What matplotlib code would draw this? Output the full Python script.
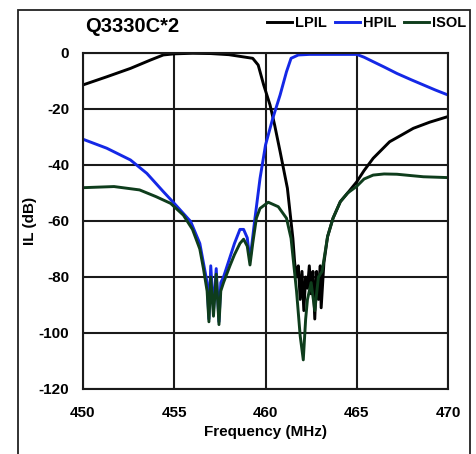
import matplotlib.pyplot as plt
from matplotlib.patches import Rectangle

# ------- data -------
lpil_f = [450, 451.3, 452.6, 453.7, 454.4, 455, 456, 457, 458, 458.6, 459.3, 459.6,
          459.9, 460.25, 460.5, 460.8, 461.2, 461.5, 461.6, 461.7, 461.8, 461.9,
          462.0, 462.1, 462.2, 462.3, 462.4, 462.5, 462.6, 462.7, 462.8, 462.9,
          463.0, 463.05, 463.2, 463.4, 463.7, 464.1, 464.5, 465, 465.4, 465.9,
          466.8, 467.4, 468.1, 469, 470]
lpil_db = [-11.4, -8.5, -5.5, -2.5, -0.7, -0.3, -0.1, -0.2, -0.6, -1.2, -1.9, -4.3,
           -11.4, -18.6, -25.7, -35.2, -48.3, -66.2, -75, -80, -76, -88,
           -78, -92, -80, -84, -76, -86, -78, -95, -78, -88,
           -76, -91, -75, -65.6, -59, -53.1, -50, -46, -42, -37.6,
           -31.7, -29.5, -26.9, -24.7, -22.7]

hpil_f = [450, 451.3, 452.6, 453.5, 454.4, 455, 455.9, 456.4, 456.6, 456.8, 456.9,
          457.0, 457.15, 457.3, 457.45, 457.55, 457.7, 458.05, 458.3, 458.6, 458.8,
          459.0, 459.15, 459.4, 459.7, 460.0, 460.4, 460.8, 461.15, 461.4, 461.8,
          462.4, 463.5, 465.0, 465.4, 465.9, 466.5, 467.2, 468.0, 468.65, 469.3, 470]
hpil_db = [-30.8, -34, -38.2, -43, -49.5, -53.7, -60.2, -68, -75, -82, -95,
           -76, -92, -77, -96, -82, -80, -73, -68, -63, -63,
           -66, -74, -60.2, -44.8, -32.9, -23.3, -15, -6.7, -1.9, -0.7,
           -0.5, -0.5, -0.5, -1.5, -3.1, -5.0, -7.3, -9.6, -11.4, -13.2, -15]

isol_f = [450, 451.7, 453.1, 454.0, 454.8, 455.5, 456, 456.4, 456.6, 456.8, 456.9,
          457.0, 457.15, 457.3, 457.45, 457.55, 457.7, 458.05, 458.3, 458.6, 458.8,
          459.0, 459.15, 459.3, 459.5, 459.7, 460.15, 460.7, 461.15, 461.4, 461.7,
          461.9, 462.07, 462.2, 462.3, 462.5, 462.7, 462.9, 463.1, 463.4, 463.7,
          464.1, 464.5, 465, 465.4, 465.9, 466.5, 467.2, 468.0, 468.65, 470]
isol_db = [-48.1, -47.7, -48.9, -51.3, -53.7, -57.9, -63, -70, -77, -85, -96,
           -80, -94, -79, -97, -85, -82, -76, -72, -68, -66.5,
           -69, -75.7, -68, -59, -55.5, -53.3, -54.9, -59, -66.2, -85,
           -101, -109.6, -95, -88, -82, -92, -80, -78, -65.6, -59,
           -53.1, -50, -47.6, -45, -43.6, -43.2, -43.3, -43.8, -44.2, -44.5]

x_ticks = [450, 455, 460, 465, 470]
y_ticks = [0, -20, -40, -60, -80, -100, -120]

plt.rcParams['font.family'] = ['Liberation Sans', 'DejaVu Sans']
plt.rcParams['font.weight'] = 'bold'
plt.rcParams['axes.unicode_minus'] = False

fig = plt.figure(figsize=(4.76, 4.54), dpi=100)
ax = fig.add_axes([83/476, 1-389/454, 365/476, 336/454])

# outer frame round the whole chart
fig.patches.append(Rectangle((18/476, -0.05), 452/476, 1.04 - 5/454,
                             transform=fig.transFigure, fill=False,
                             edgecolor='#222222', linewidth=1.3))

ax.plot(lpil_f, lpil_db, color='black', lw=2.1, label='LPIL')
ax.plot(hpil_f, hpil_db, color='#1428e6', lw=2.1, label='HPIL')
ax.plot(isol_f, isol_db, color='#0e3d1c', lw=2.1, label='ISOL')

ax.set_xlim(450, 470)
ax.set_ylim(-120, 0)
ax.set_xticks(x_ticks)
ax.set_yticks(y_ticks)
ax.grid(True, color='#1a1a1a', lw=1.5)
ax.set_axisbelow(True)
for s in ax.spines.values():
    s.set_color('#1a1a1a')
    s.set_linewidth(1.5)
ax.tick_params(length=0, labelsize=11)
ax.tick_params(axis='y', pad=10)
ax.tick_params(axis='x', pad=12)

ax.set_xlabel('Frequency (MHz)', fontsize=11, fontweight='bold', labelpad=4)
ax.set_ylabel('IL (dB)', fontsize=11, fontweight='bold')
ax.yaxis.set_label_coords(-0.125, 0.5)

fig.text(85/476, 1-27/454, 'Q3330C*2', fontsize=14.5, fontweight='bold',
         ha='left', va='center')

fig.legend(loc='center right', bbox_to_anchor=(466/476, 1-23/454), ncol=3,
           frameon=False, handlelength=1.7, handletextpad=0.2, columnspacing=0.55,
           borderaxespad=0, borderpad=0, prop={'weight': 'bold', 'size': 10.5})

fig.savefig('out.png', dpi=100)
